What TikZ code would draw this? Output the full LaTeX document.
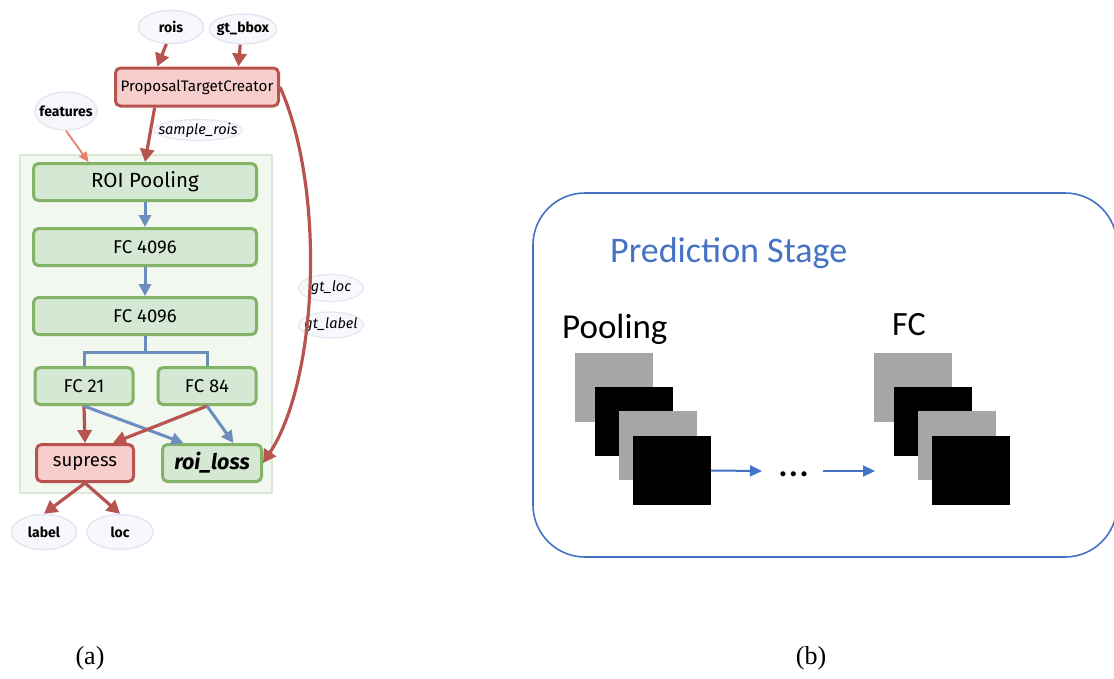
\documentclass[tikz,border=0pt]{standalone}
\usepackage{fontspec}
\usetikzlibrary{arrows.meta,calc,shapes.geometric}
\newfontfamily\diagfont{Fira Sans}
\newfontfamily\califont{Carlito}
\newfontfamily\capfont{Liberation Serif}

\definecolor{boxgreen}{HTML}{D5E8D4}
\definecolor{edgegreen}{HTML}{82B366}
\definecolor{boxpink}{HTML}{F8CECC}
\definecolor{edgered}{HTML}{B85450}
\definecolor{flowblue}{HTML}{6C8EBF}
\definecolor{featred}{HTML}{E8806F}
\definecolor{clusterfill}{HTML}{F2F7F0}
\definecolor{clusteredge}{HTML}{DCE8D6}
\definecolor{ovalfill}{HTML}{F6F8FC}
\definecolor{ovaledge}{HTML}{E2E7F2}
\definecolor{stageblue}{HTML}{4472C4}
\definecolor{mapgray}{HTML}{A6A6A6}

\tikzset{
  layer/.style={draw=edgegreen, fill=boxgreen, line width=3pt, rounded corners=5pt,
    minimum height=37pt, inner sep=0pt, font=\diagfont\fontsize{18.5}{21}\selectfont},
  opbox/.style={draw=edgered, fill=boxpink, line width=3pt, rounded corners=5pt,
    minimum height=37pt, inner sep=0pt, font=\diagfont\fontsize{18.5}{21}\selectfont},
  oval/.style={ellipse, draw=ovaledge, fill=ovalfill, line width=1.5pt,
    inner xsep=-14pt, inner ysep=-4pt,
    font=\diagfont\bfseries\fontsize{14}{16}\selectfont},
  tagoval/.style={ellipse, draw=ovaledge, fill=ovalfill, line width=1.2pt,
    inner xsep=-16pt, inner ysep=-5pt,
    font=\diagfont\itshape\fontsize{14.5}{16}\selectfont},
  redflow/.style={draw=edgered, line width=3.2pt, -{Triangle[length=13pt,width=14pt]}},
  blueflow/.style={draw=flowblue, line width=3pt, -{Triangle[length=12pt,width=12pt]}},
  bluejoin/.style={draw=flowblue, line width=3pt},
  featflow/.style={draw=featred, line width=1.8pt, -{Triangle[length=10pt,width=9pt]}},
  stagearrow/.style={draw=stageblue, line width=2pt, -{Triangle[length=12pt,width=11pt]}},
  graymap/.style={fill=mapgray},
  blackmap/.style={fill=black},
}

\begin{document}
\begin{tikzpicture}[x=1pt,y=-1pt]
\useasboundingbox (0,0) rectangle (1114,678);
\fill[white] (0,0) rectangle (1114,678);

% ---------------- (a) Fast R-CNN head ----------------
\draw[draw=clusteredge, fill=clusterfill, line width=2pt] (20,155) rectangle (272,493);

\node[oval, minimum width=65pt, minimum height=33pt] (rois) at (171,27) {rois};
\node[oval, minimum width=67pt, minimum height=30pt] (gtbbox) at (243,29) {gt\_bbox};
\node[oval, minimum width=62pt, minimum height=38pt] (feat) at (66,111) {features};

\node[opbox, minimum width=163pt, minimum height=38pt,
  font=\diagfont\fontsize{15.2}{17}\selectfont] (ptc) at (197,87) {ProposalTargetCreator};
\node[tagoval, minimum width=88pt, minimum height=21pt] (srois) at (198,130) {sample\_rois};

\node[layer, minimum width=223pt, font=\diagfont\fontsize{20.5}{23}\selectfont] (pool) at (145,182) {ROI Pooling};
\node[layer, minimum width=223pt] (fca) at (145,247) {FC 4096};
\node[layer, minimum width=223pt] (fcb) at (145,316) {FC 4096};
\node[layer, minimum width=98pt] (fc21) at (84,386) {FC 21};
\node[layer, minimum width=98pt] (fc84) at (207,386) {FC 84};
\node[opbox, minimum width=97pt] (sup) at (85,463) {supress};
\node[layer, minimum width=99pt, font=\diagfont\bfseries\itshape\fontsize{21.5}{24}\selectfont] (loss) at (212,463) {roi\_loss};

\node[oval, minimum width=65pt, minimum height=35pt] (lbl) at (44,532) {label};
\node[oval, minimum width=66pt, minimum height=35pt] (loc) at (120,532) {loc};
\node[tagoval, minimum width=65pt, minimum height=27pt] (gtloc) at (331,288) {gt\_loc};
\node[tagoval, minimum width=65pt, minimum height=26pt] (gtlabel) at (331,325) {gt\_label};

\coordinate (split) at (145,352);

% connectors
\draw[redflow] (rois.255) -- ($(ptc.north west)!0.26!(ptc.north east)$);
\draw[redflow] (gtbbox.260) -- ($(ptc.north west)!0.75!(ptc.north east)$);
\draw[redflow] ($(ptc.south west)!0.245!(ptc.south east)$) -- (pool.north);
\draw[featflow] (feat.south) -- ($(pool.north west)!0.25!(pool.north east)$);
\draw[redflow] (ptc.east) .. controls (326,190) and (318,380) .. (loss.east);

\draw[blueflow] (pool.south) -- (fca.north);
\draw[blueflow] (fca.south) -- (fcb.north);
\draw[bluejoin] (fcb.south) -- (split);
\draw[bluejoin] (split) -| (fc21.north);
\draw[bluejoin] (split) -| (fc84.north);

\draw[redflow] (fc21.south) -- (sup.north);
\draw[blueflow] (fc21.south) -- ($(loss.north west)!0.22!(loss.north east)$);
\draw[redflow] (fc84.south) -- ($(sup.north west)!0.78!(sup.north east)$);
\draw[blueflow] (fc84.south) -- ($(loss.north west)!0.71!(loss.north east)$);

\draw[redflow] (sup.south) -- (lbl.north);
\draw[redflow] (sup.south) -- (loc.north);

% ---------------- (b) prediction stage ----------------
\draw[stageblue, line width=1.6pt, rounded corners=52pt] (533,193) rectangle (1117,557);
\node[anchor=base west, inner sep=0pt, text=stageblue, font=\califont\fontsize{36}{40}\selectfont]
  (stage) at (610,262) {Prediction Stage};
\node[anchor=base west, inner sep=0pt, font=\califont\fontsize{35}{40}\selectfont]
  (pooltxt) at (562,338) {Pooling};
\node[anchor=base west, inner sep=0pt, font=\califont\fontsize{34}{40}\selectfont]
  (fctxt) at (892,335) {FC};

% feature-map stacks
\fill[graymap] (575,353) rectangle (653,422);
\fill[blackmap] (595,387) rectangle (673,456);
\fill[graymap] (619,411) rectangle (697,480);
\node[blackmap, minimum width=78pt, minimum height=69pt, inner sep=0pt] (mapa) at (672,470.5) {};

\fill[graymap] (874,353) rectangle (952,422);
\fill[blackmap] (894,387) rectangle (972,456);
\fill[graymap] (918,411) rectangle (996,480);
\node[blackmap, minimum width=78pt, minimum height=69pt, inner sep=0pt] (mapb) at (971,470.5) {};

\node[anchor=base, inner sep=0pt, font=\califont\fontsize{42}{46}\selectfont] (dots) at (794,476) {…};
\coordinate (arrowmid) at (762,471);
\coordinate (arrowin) at (823,471);
\coordinate (arrowend) at (875,471);
\draw[stagearrow] (mapa.east) -- (arrowmid);
\draw[stagearrow] (arrowin) -- (arrowend);

% captions
\node[inner sep=0pt, font=\capfont\fontsize{26}{29}\selectfont] (capa) at (90,658) {(a)};
\node[inner sep=0pt, font=\capfont\fontsize{26}{29}\selectfont] (capb) at (811,658) {(b)};
\end{tikzpicture}
\end{document}
